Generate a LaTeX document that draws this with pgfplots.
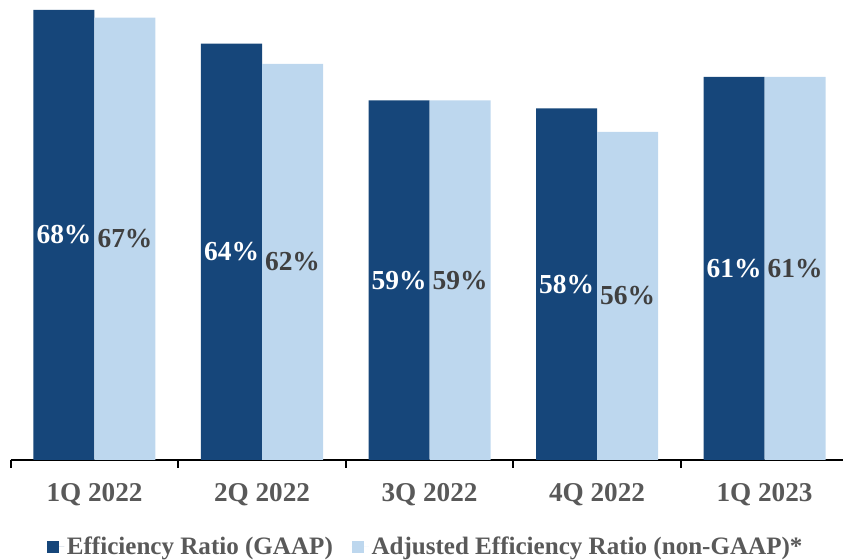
\documentclass[border=0pt]{standalone}
\usepackage{pgfplots}
\pgfplotsset{compat=1.18}
\usepackage{fontspec}
\setmainfont{Liberation Serif}
\definecolor{darkblue}{HTML}{16467A}
\definecolor{lightblue}{HTML}{BDD7EE}
\definecolor{txtgray}{HTML}{595959}
\definecolor{lblgray}{HTML}{404040}
\begin{document}
\begin{tikzpicture}
\begin{axis}[
  scale only axis, width=624.2pt, height=345pt,
  ybar=0pt, bar width=45.75pt,
  xmin=-0.5, xmax=4.4687, ymin=22.8, ymax=68.8,
  axis x line*=bottom, axis y line=none, ytick=\empty,
  xtick={0,1,2,3,4},
  xticklabels={1Q 2022,2Q 2022,3Q 2022,4Q 2022,1Q 2023},
  minor xtick={-0.5,0.5,1.5,2.5,3.5},
  major tick length=0pt, minor tick length=6pt, tick align=outside,
  x axis line style={line width=1.2pt, black},
  minor x tick style={line width=1.2pt, black},
  xticklabel style={anchor=base, yshift=-31.5pt, font=\fontsize{20.4pt}{22pt}\selectfont\bfseries, text=txtgray},
  point meta=explicit symbolic,
  nodes near coords,
  visualization depends on=rawy \as \rawy,
  every node near coord/.append style={anchor=center, font=\fontsize{20.6pt}{22pt}\selectfont\bfseries,
     shift={(axis direction cs:0,{-(\rawy-22.8)/2})}},
  legend style={at={(0.499,-0.189)}, anchor=center, legend columns=2, draw=none, fill=none,
     font=\fontsize{18.8pt}{20pt}\selectfont\bfseries, text=txtgray,
     /tikz/every even column/.append style={column sep=12pt}},
  clip=false,
]
\addplot[fill=darkblue, draw=none, every node near coord/.append style={text=white},
  legend image code/.code={\fill[darkblue] (0pt,-4.5pt) rectangle (9pt,4.5pt); \path (0pt,0pt) -- (13pt,0pt);}]
  coordinates {(0,67.8) [68\%] (1,64.43) [64\%] (2,58.75) [59\%] (3,57.96) [58\%] (4,61.1) [61\%]};
\addlegendentry{Efficiency Ratio (GAAP)}
\addplot[fill=lightblue, draw=none, every node near coord/.append style={text=lblgray},
  legend image code/.code={\fill[lightblue] (0pt,-4.5pt) rectangle (9pt,4.5pt); \path (0pt,0pt) -- (13pt,0pt);}]
  coordinates {(0,67.03) [67\%] (1,62.4) [62\%] (2,58.75) [59\%] (3,55.6) [56\%] (4,61.1) [61\%]};
\addlegendentry{Adjusted Efficiency Ratio (non-GAAP)*}
\end{axis}
\pgfresetboundingbox
\path ([xshift=-8.06pt,yshift=-75pt]current axis.south west) rectangle (current axis.north east);
\end{tikzpicture}
\end{document}
